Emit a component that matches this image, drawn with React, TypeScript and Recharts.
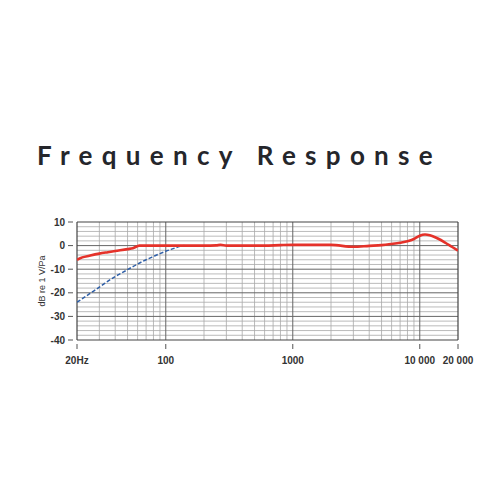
import React from "react";
import { LineChart, Line, XAxis, YAxis, CartesianGrid } from "recharts";

const redFreq = [20, 22, 25, 30, 35, 40, 50, 55, 62, 70, 80, 100, 150, 200, 250, 270, 300, 400, 600, 800, 1000, 2000, 3000, 4000, 5000, 6000, 7000, 8000, 9000, 10000, 11000, 12000, 14000, 16000, 18000, 20000];
const redDb = [-6.0, -5.0, -4.3, -3.4, -2.8, -2.3, -1.5, -1.1, 0, 0, 0, 0, 0, 0, 0.1, 0.3, 0, 0, 0, 0.2, 0.3, 0.3, -0.5, -0.1, 0.2, 0.7, 1.2, 1.8, 2.8, 4.2, 4.7, 4.4, 2.9, 1.1, -0.6, -2.1];
const blueFreq = [20, 25, 30, 40, 50, 60, 70, 80, 90, 100, 110, 120, 130, 140];
const blueDb = [-24, -20.5, -17.6, -13.1, -10.2, -7.8, -6.0, -4.6, -3.4, -2.4, -1.6, -0.9, -0.3, 0];

const xTicks = [20, 100, 1000, 10000, 20000];
const xTickLabels = ["20Hz", "100", "1000", "10 000", "20 000"];
const yTicks = [-40, -30, -20, -10, 0, 10];
const minorX = [30, 40, 50, 60, 70, 80, 90, 200, 300, 400, 500, 600, 700, 800, 900, 2000, 3000, 4000, 5000, 6000, 7000, 8000, 9000];
const majorX = [100, 1000, 10000];
const minorY = [-38, -36, -34, -32, -28, -26, -24, -22, -18, -16, -14, -12, -8, -6, -4, -2, 2, 4, 6, 8];
const majorY = [-30, -20, -10, 0];

const redData = redFreq.map((f, i) => ({ f, v: redDb[i] }));
const blueData = blueFreq.map((f, i) => ({ f, v: blueDb[i] }));

const YTick = (props: any) => {
  const { x, y, payload } = props;
  return (
    <g>
      <line x1={x - 9} x2={x - 4} y1={y} y2={y} stroke="#555" strokeWidth={1} />
      <text x={x - 12} y={y} dy={3.5} textAnchor="end" fontSize={10} fontWeight="bold" fill="#333" fontFamily="Liberation Sans, Arial, sans-serif">
        {payload.value}
      </text>
    </g>
  );
};

const XTick = (props: any) => {
  const { x, y, payload } = props;
  const idx = xTicks.indexOf(payload.value);
  return (
    <g>
      <line x1={x} x2={x} y1={y + 4} y2={y + 9} stroke="#555" strokeWidth={1} />
      <text x={x} y={y + 24} textAnchor="middle" fontSize={10} fontWeight="bold" fill="#333" fontFamily="Liberation Sans, Arial, sans-serif">
        {idx >= 0 ? xTickLabels[idx] : payload.value}
      </text>
    </g>
  );
};

export default function App() {
  return (
    <div style={{ position: "absolute", left: 0, top: 0, width: 500, height: 500, background: "#fff" }}>
      <div
        style={{
          position: "absolute",
          left: 37,
          top: 140,
          fontFamily: "Lato, sans-serif",
          fontWeight: 700,
          fontSize: 26,
          letterSpacing: 9.3,
          color: "#25262b",
          whiteSpace: "nowrap",
          lineHeight: "30px",
        }}
      >
        Frequency Response
      </div>
      <div style={{ position: "absolute", left: 0, top: 0 }}>
        <LineChart width={500} height={500} margin={{ top: 222, right: 42, bottom: 130, left: 37 }}>
          <CartesianGrid horizontal={false} vertical verticalValues={minorX} stroke="#aaa" strokeWidth={0.8} />
          <CartesianGrid vertical={false} horizontal horizontalValues={minorY} stroke="#aaa" strokeWidth={0.8} />
          <CartesianGrid vertical verticalValues={majorX} horizontal horizontalValues={majorY} stroke="#666" strokeWidth={1} />
          <CartesianGrid vertical verticalValues={[20, 20000]} horizontal horizontalValues={[-40, 10]} stroke="#444" strokeWidth={1.2} />
          <XAxis
            dataKey="f"
            type="number"
            scale="log"
            domain={[20, 20000]}
            ticks={xTicks}
            allowDataOverflow
            axisLine={false}
            tickLine={false}
            tickSize={0}
            tickMargin={0}
            height={30}
            tick={<XTick />}
            interval={0}
          />
          <YAxis
            type="number"
            domain={[-40, 10]}
            ticks={yTicks}
            axisLine={false}
            tickLine={false}
            tickSize={0}
            tickMargin={0}
            width={40}
            tick={<YTick />}
            interval={0}
            label={{
              value: "dB re 1 V/Pa",
              angle: -90,
              position: "insideLeft",
              offset: 0,
              dx: 5,
              style: { fontSize: 9, fill: "#333", fontFamily: "Liberation Sans, Arial, sans-serif", textAnchor: "middle" },
            }}
          />
          <Line data={blueData} dataKey="v" type="monotone" stroke="#2f5fa7" strokeWidth={1.5} strokeDasharray="4 2" dot={false} isAnimationActive={false} />
          <Line data={redData} dataKey="v" type="monotone" stroke="#e5322a" strokeWidth={2.6} dot={false} isAnimationActive={false} />
        </LineChart>
      </div>
    </div>
  );
}
